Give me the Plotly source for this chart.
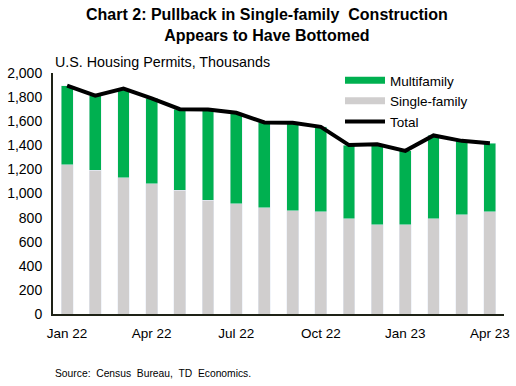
import plotly.graph_objects as go

months = ["Jan 22", "Feb 22", "Mar 22", "Apr 22", "May 22", "Jun 22", "Jul 22", "Aug 22",
          "Sep 22", "Oct 22", "Nov 22", "Dec 22", "Jan 23", "Feb 23", "Mar 23", "Apr 23"]
single_family = [1240, 1195, 1131, 1079, 1029, 946, 913, 882, 855, 847, 789, 739, 739, 789, 822, 847]
multifamily = [655, 617, 739, 711, 671, 751, 757, 708, 733, 706, 613, 670, 615, 693, 615, 570]
total = [1895, 1812, 1870, 1790, 1700, 1697, 1670, 1590, 1588, 1553, 1402, 1409, 1354, 1482, 1437, 1417]
tick_labels = ["Jan 22", "Apr 22", "Jul 22", "Oct 22", "Jan 23", "Apr 23"]
y_ticks = [0, 200, 400, 600, 800, 1000, 1200, 1400, 1600, 1800, 2000]

GREEN = "#00B050"
GRAY = "#D0CECE"
FONT = "Arial, Liberation Sans, sans-serif"

x = list(range(len(months)))

fig = go.Figure()
fig.add_trace(go.Bar(x=x, y=single_family, marker_color=GRAY, width=0.42,
                     name="Single-family", showlegend=False, hovertext=months))
fig.add_trace(go.Bar(x=x, y=multifamily, marker_color=GREEN, width=0.42,
                     name="Multifamily", showlegend=False, hovertext=months))
fig.add_trace(go.Scatter(x=x, y=total, mode="lines", line=dict(color="black", width=4),
                         name="Total", showlegend=False, hovertext=months))
# legend entries
fig.add_trace(go.Scatter(x=[None], y=[None], mode="lines", line=dict(color=GREEN, width=7),
                         name="Multifamily"))
fig.add_trace(go.Scatter(x=[None], y=[None], mode="lines", line=dict(color=GRAY, width=7),
                         name="Single-family"))
fig.add_trace(go.Scatter(x=[None], y=[None], mode="lines", line=dict(color="black", width=4),
                         name="Total"))

tick_idx = [months.index(t) for t in tick_labels]

L, T, R, B = 53, 73, 12, 72
PW, PH = 516 - L - R, 386 - T - B


def px_x(p):
    return (p - L) / PW


def px_y(p):
    return (386 - B - p) / PH


fig.update_layout(
    width=516, height=386,
    barmode="stack",
    plot_bgcolor="white", paper_bgcolor="white",
    margin=dict(l=L, r=R, t=T, b=B, autoexpand=False),
    font=dict(family=FONT, size=14, color="black"),
    xaxis=dict(range=[-0.5, len(months)-0.5], tickvals=tick_idx, ticktext=tick_labels,
               showgrid=False, zeroline=False, showline=True, linecolor="#1E2216", linewidth=2,
               ticks="", tickfont=dict(size=13.5), ticklabelstandoff=6, automargin=False),
    yaxis=dict(range=[0, 2000], tickvals=y_ticks, tickformat=",d", showgrid=False,
               zeroline=False, showline=True, linecolor="#1E2216", linewidth=2,
               ticks="", tickfont=dict(size=14), ticklabelstandoff=6, automargin=False),
    legend=dict(x=px_x(340), y=px_y(65), xanchor="left", yanchor="top",
                bgcolor="rgba(0,0,0,0)", itemwidth=40, tracegroupgap=0,
                font=dict(size=13.5), traceorder="normal"),
    showlegend=True,
    annotations=[
        dict(text="<b>Chart 2: Pullback in Single-family\u00a0 Construction<br>Appears to Have Bottomed</b>",
             x=px_x(267), xref="paper", xanchor="center", y=px_y(4), yref="paper", yanchor="top",
             showarrow=False, font=dict(size=16)),
        dict(text="U.S. Housing Permits, Thousands", x=0, xref="paper", xanchor="left",
             y=px_y(62), yref="paper", yanchor="middle", showarrow=False,
             font=dict(size=14.3)),
        dict(text="Source:  Census  Bureau,  TD  Economics.", x=0, xref="paper", xanchor="left",
             y=px_y(373), yref="paper", yanchor="middle", showarrow=False,
             font=dict(size=10.3)),
    ],
)

fig.write_html("out.html", post_script="document.body.style.margin='0';",
               config={"displayModeBar": False})
